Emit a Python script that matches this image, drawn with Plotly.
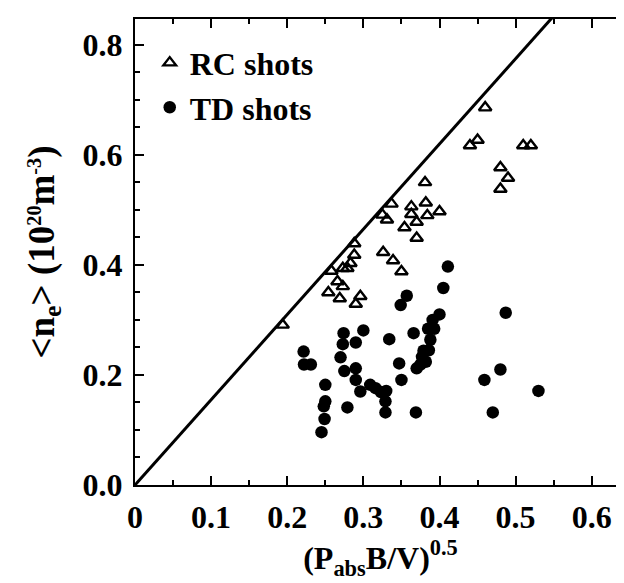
import plotly.graph_objects as go

# RC shots (triangles)
rc_x = [0.194, 0.254, 0.258, 0.266, 0.269, 0.273, 0.273, 0.279, 0.283, 0.288, 0.288,
        0.290, 0.296, 0.325, 0.326, 0.331, 0.337, 0.339, 0.350, 0.354, 0.363, 0.363,
        0.370, 0.370, 0.381, 0.382, 0.384, 0.400, 0.440, 0.450, 0.460, 0.480, 0.480,
        0.490, 0.510, 0.520]
rc_y = [0.291, 0.350, 0.389, 0.370, 0.339, 0.394, 0.361, 0.394, 0.403, 0.439, 0.418,
        0.329, 0.343, 0.491, 0.423, 0.482, 0.511, 0.408, 0.388, 0.468, 0.506, 0.492,
        0.478, 0.449, 0.550, 0.513, 0.490, 0.497, 0.617, 0.627, 0.686, 0.577, 0.538,
        0.558, 0.617, 0.617]

# TD shots (filled circles)
td_x = [0.2215, 0.222, 0.231, 0.245, 0.249, 0.248, 0.250, 0.250, 0.270, 0.273, 0.274,
        0.275, 0.279, 0.290, 0.290, 0.290, 0.296, 0.300, 0.309, 0.316, 0.323, 0.330,
        0.329, 0.329, 0.334, 0.349, 0.357, 0.347, 0.350, 0.366, 0.369, 0.370, 0.375,
        0.377, 0.382, 0.379, 0.386, 0.388, 0.385, 0.393, 0.391, 0.400, 0.405, 0.411,
        0.459, 0.470, 0.480, 0.487, 0.530]
td_y = [0.2425, 0.219, 0.219, 0.096, 0.120, 0.143, 0.152, 0.182, 0.232, 0.256, 0.276,
        0.207, 0.141, 0.259, 0.212, 0.191, 0.170, 0.281, 0.182, 0.176, 0.169, 0.171,
        0.152, 0.132, 0.265, 0.327, 0.344, 0.221, 0.191, 0.276, 0.132, 0.212, 0.219,
        0.233, 0.224, 0.244, 0.245, 0.264, 0.284, 0.284, 0.300, 0.310, 0.358, 0.397,
        0.191, 0.132, 0.210, 0.313, 0.171]

# Reference line y = 1.55 x
line_x = [0.0, 0.6]
line_slope = 1.55
line_y = [line_slope * v for v in line_x]

x_ticks = [0, 0.1, 0.2, 0.3, 0.4, 0.5, 0.6]
x_labels = ["0", "0.1", "0.2", "0.3", "0.4", "0.5", "0.6"]
y_ticks = [0.0, 0.2, 0.4, 0.6, 0.8]

FONT = "Liberation Serif"
FS = 32

fig = go.Figure()
fig.add_trace(go.Scatter(x=line_x, y=line_y, mode="lines",
                         line=dict(color="black", width=3), showlegend=False,
                         hoverinfo="skip"))
fig.add_trace(go.Scatter(x=rc_x, y=rc_y, mode="markers", name="RC shots",
                         marker=dict(symbol="triangle-up-open", size=11, color="black",
                                     line=dict(width=2.4, color="black"))))
fig.add_trace(go.Scatter(x=td_x, y=td_y, mode="markers", name="TD shots",
                         marker=dict(symbol="circle", size=12.5, color="black",
                                     line=dict(width=0))))

axis_common = dict(
    showline=True, linewidth=2, linecolor="black", mirror="allticks",
    ticks="inside", ticklen=9, tickwidth=1.5, tickcolor="black",
    showgrid=False, zeroline=False,
    tickfont=dict(family=FONT, size=FS, color="black", weight="bold"),
    minor=dict(ticks="inside", ticklen=5, tickwidth=1.5, tickcolor="black", showgrid=False),
)

fig.update_xaxes(range=[0, 0.645], tickvals=x_ticks, ticktext=x_labels,
                 minor_dtick=0.05, minor_tick0=0,
                 title=dict(text="(P<sub>abs</sub>B/V)<sup>0.5</sup>",
                            font=dict(family=FONT, size=FS, color="black", weight="bold"),
                            standoff=6),
                 ticklabelstandoff=3,
                 **axis_common)
fig.update_yaxes(range=[0, 0.847], tickvals=y_ticks, tickformat=".1f",
                 minor_dtick=0.05, minor_tick0=0,
                 title=dict(text="&lt;n<sub>e</sub>&gt; (10<span style=\"font-size:29px\"><sup>20</sup></span>m<span style=\"font-size:29px\"><sup>-3</sup></span>)",
                            font=dict(family=FONT, size=37, color="black", weight="bold"),
                            standoff=17),
                 ticklabelstandoff=4,
                 **axis_common)

fig.update_layout(
    width=624, height=583,
    margin=dict(l=127, r=4, t=11, b=106),
    plot_bgcolor="white", paper_bgcolor="white",
    font=dict(family=FONT, color="black"),
    legend=dict(x=0.03, y=0.965, xanchor="left", yanchor="top",
                bgcolor="rgba(0,0,0,0)", borderwidth=0,
                font=dict(family=FONT, size=FS, color="black", weight="bold"),
                tracegroupgap=0, itemwidth=30),
)

fig.write_html("out.html")
